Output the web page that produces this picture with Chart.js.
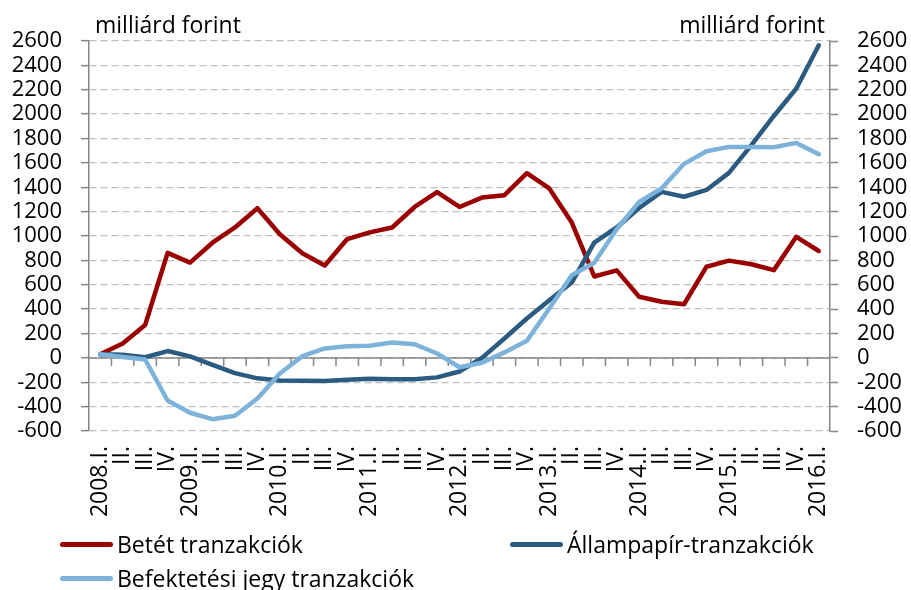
<!DOCTYPE html>
<html>
<head>
<meta charset="utf-8">
<script src="https://cdn.jsdelivr.net/npm/chart.js@4.4.1/dist/chart.umd.min.js"></script>
<style>
  body { margin: 0; background: #fff; }
  #wrap { position: relative; width: 911px; height: 590px; font-family: "Open Sans", sans-serif; }
  #legend { position: absolute; left: 60px; top: 527px; display: grid; grid-template-columns: 450px auto; grid-auto-rows: 34px; }
  .item { display: flex; align-items: center; font-size: 23px; color: #000; }
  .swatch { width: 53px; height: 5px; border-radius: 3px; margin-right: 4px; }
</style>
</head>
<body>
<div id="wrap">
  <canvas id="chart" width="911" height="590"></canvas>
  <div id="legend"></div>
</div>
<script>
const labels = ['2008.I.', 'II.', 'III.', 'IV.', '2009.I.', 'II.', 'III.', 'IV.',
  '2010.I.', 'II.', 'III.', 'IV.', '2011.I.', 'II.', 'III.', 'IV.',
  '2012.I.', 'II.', 'III.', 'IV.', '2013.I.', 'II.', 'III.', 'IV.',
  '2014.I.', 'II.', 'III.', 'IV.', '2015.I.', 'II.', 'III.', 'IV.', '2016.I.']

// milliárd forint
const betet = [30, 118, 270, 862, 782, 945, 1070, 1228, 1015, 858, 758, 975, 1030, 1070, 1238, 1360,
  1238, 1315, 1335, 1515, 1390, 1110, 668, 718, 502, 460, 440, 748, 798, 768, 720, 993, 877]
const allampapir = [30, 25, 5, 56, 12, -58, -125, -168, -186, -188, -190, -180, -172, -175, -175, -160,
  -112, 0, 159, 323, 473, 618, 945, 1070, 1230, 1362, 1322, 1378, 1518, 1745, 1985, 2210, 2565]
const befektetesi = [30, 8, -13, -350, -450, -503, -475, -333, -128, 14, 77, 96, 99, 126, 112, 36,
  -77, -40, 45, 140, 405, 678, 780, 1055, 1280, 1390, 1592, 1695, 1731, 1731, 1728, 1764, 1671]

const seriesNames = ['Betét tranzakciók', 'Állampapír-tranzakciók', 'Befektetési jegy tranzakciók']
const seriesColors = ['#9A0000', '#2B5B80', '#7DB3DA']
const unitText = 'milliárd forint'

const FONT = '"Open Sans", sans-serif'
const axisGray = '#868686'

function line(i, data, order) {
  return {
    label: seriesNames[i],
    data: data,
    borderColor: seriesColors[i],
    borderWidth: 4.5,
    pointRadius: 0,
    tension: 0,
    borderCapStyle: 'round',
    borderJoinStyle: 'round',
    order: order,
    yAxisID: 'y'
  }
}

// zero line with category tick marks + unit titles
const extras = {
  id: 'extras',
  beforeDatasetsDraw(chart) {
    const {ctx, chartArea, scales: {x, y}} = chart
    const y0 = y.getPixelForValue(0)
    ctx.save()
    ctx.strokeStyle = axisGray
    ctx.lineWidth = 1.5
    ctx.beginPath()
    ctx.moveTo(chartArea.left, y0)
    ctx.lineTo(chartArea.right, y0)
    for (let i = 0; i < labels.length - 1; i++) {
      const bx = (x.getPixelForTick(i) + x.getPixelForTick(i + 1)) / 2
      ctx.moveTo(bx, y0)
      ctx.lineTo(bx, y0 + 8)
    }
    ctx.stroke()
    ctx.restore()
  },
  afterDraw(chart) {
    const {ctx, chartArea} = chart
    ctx.save()
    ctx.font = '23px ' + FONT
    ctx.fillStyle = '#000'
    ctx.textBaseline = 'alphabetic'
    ctx.textAlign = 'left'
    ctx.fillText(unitText, chartArea.left + 6, chartArea.top - 8)
    ctx.textAlign = 'right'
    ctx.fillText(unitText, chartArea.right - 5, chartArea.top - 8)
    ctx.restore()
  }
}

const yTicks = {
  color: '#000',
  font: {family: FONT, size: 22},
  padding: 19,
  stepSize: 200,
  autoSkip: false,
  callback: v => String(v)
}

const mychart = new Chart(document.getElementById('chart'), {
  type: 'line',
  data: {
    labels: labels,
    datasets: [line(0, betet, 2), line(1, allampapir, 1), line(2, befektetesi, 0)]
  },
  options: {
    responsive: false,
    animation: false,
    layout: {padding: {top: 41, bottom: 65, left: 0, right: 0}},
    plugins: {legend: {display: false}, tooltip: {enabled: false}},
    scales: {
      x: {
        offset: true,
        grid: {display: false, drawTicks: false},
        border: {display: false},
        ticks: {
          color: '#000',
          font: {family: FONT, size: 23},
          minRotation: 90,
          maxRotation: 90,
          autoSkip: false,
          padding: 15
        },
        afterFit(scale) { scale.height = 94 }
      },
      y: {
        position: 'left',
        min: -600,
        max: 2600,
        grid: {color: '#BFBFBF', lineWidth: 1.3, tickColor: axisGray, tickWidth: 1.5, tickLength: 8},
        border: {color: axisGray, width: 1.5, dash: [7, 4]},
        ticks: yTicks,
        afterFit(scale) { scale.width = 89 }
      },
      y2: {
        position: 'right',
        min: -600,
        max: 2600,
        grid: {drawOnChartArea: false, tickColor: axisGray, tickWidth: 1.5, tickLength: 8},
        border: {color: axisGray, width: 1.5},
        ticks: yTicks,
        afterFit(scale) { scale.width = 81 }
      }
    }
  },
  plugins: [extras]
})

// legend, two columns like the original
const legendEl = document.getElementById('legend')
seriesNames.forEach((name, i) => {
  const item = document.createElement('div')
  item.className = 'item'
  item.innerHTML = '<span class="swatch" style="background:' + seriesColors[i] + '"></span>' + name
  legendEl.appendChild(item)
})
</script>
</body>
</html>
